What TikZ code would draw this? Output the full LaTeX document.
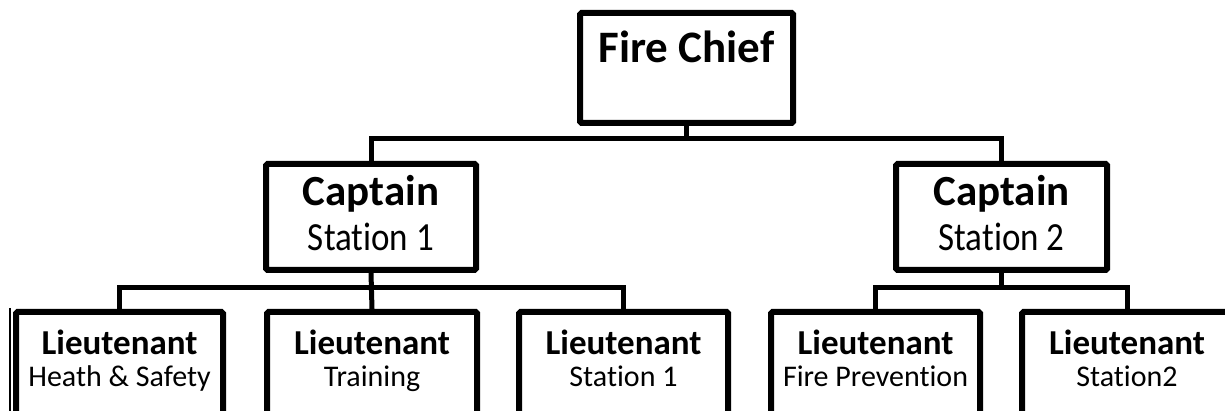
\documentclass[tikz,border=0pt]{standalone}
\usepackage{fontspec}
\setmainfont[Ligatures={NoCommon}]{Carlito}
\begin{document}
\begin{tikzpicture}[x=1pt,y=-1pt,
  box/.style={draw, line width=6pt, rounded corners=1.5pt, inner sep=0pt, anchor=north west},
  topbox/.style={box, minimum width=213pt, minimum height=110pt},
  capbox/.style={box, minimum width=210pt, minimum height=106pt},
  ltbox/.style={box, minimum width=209pt, minimum height=125pt},
  link/.style={draw, line width=5pt},
  chieftxt/.style={anchor=base, inner sep=0pt, font=\fontsize{45}{50}\selectfont\bfseries},
  captxt/.style={anchor=base, inner sep=0pt, font=\fontsize{43}{48}\selectfont\bfseries},
  capsub/.style={anchor=base, inner sep=0pt, font=\fontsize{35}{40}\selectfont},
  lttxt/.style={anchor=base, inner sep=0pt, font=\fontsize{35}{40}\selectfont\bfseries},
  ltsub/.style={anchor=base, inner sep=0pt, font=\fontsize{30}{35}\selectfont}]
\useasboundingbox (0,0) rectangle (1225,411);
\clip (0,0) rectangle (1225,411);
\fill[white] (0,0) rectangle (1225,411);

% boxes
\node[topbox] (chief) at (577,10) {};
\node[capbox] (cap1) at (263,161) {};
\node[capbox, minimum width=211pt] (cap2) at (893,161) {};
\node[ltbox, minimum width=207pt] (lt1) at (13,309) {};
\node[ltbox, minimum width=210pt] (lt2) at (264,309) {};
\node[ltbox] (lt3) at (516,309) {};
\node[ltbox] (lt4) at (768,309) {};
\node[ltbox, minimum width=210pt] (lt5) at (1019,309) {};
\draw[line width=1.5pt] (10,308) coordinate (edgeA) -- (10,420) coordinate (edgeB);

% texts
\node[chieftxt] (chiefT) at (chief.center |- 0,63) {Fire Chief};
\node[captxt] (cap1T) at (cap1.center |- 0,206) {Captain};
\node[capsub] (cap1S) at (cap1.center |- 0,251) {\scalebox{1}[1.14]{Station 1}};
\node[captxt] (cap2T) at (cap2.center |- 0,206) {Captain};
\node[capsub] (cap2S) at (cap2.center |- 0,251) {\scalebox{1}[1.14]{Station 2}};
\node[lttxt] (lt1T) at (lt1.center |- 0,354) {Lieutenant};
\node[ltsub] (lt1S) at (lt1.center |- 0,386) {Heath \& Safety};
\node[lttxt] (lt2T) at (lt2.center |- 0,354) {Lieutenant};
\node[ltsub] (lt2S) at (lt2.center |- 0,386) {Training};
\node[lttxt] (lt3T) at (lt3.center |- 0,354) {Lieutenant};
\node[ltsub] (lt3S) at (lt3.center |- 0,386) {Station 1};
\node[lttxt] (lt4T) at (lt4.center |- 0,354) {Lieutenant};
\node[ltsub] (lt4S) at (lt4.center |- 0,386) {Fire Prevention};
\node[lttxt] (lt5T) at (lt5.center |- 0,354) {Lieutenant};
\node[ltsub] (lt5S) at (lt5.center |- 0,386) {Station2};

% connectors
\coordinate (busA) at (chief.south |- 0,139);
\coordinate (busB) at (cap1.south |- 0,288);
\coordinate (busC) at (cap2.south |- 0,288);
\draw[link] (chief.south) -- (busA);
\draw[link] (busA) -| (cap1.north);
\draw[link] (busA) -| (cap2.north);
\draw[link] (cap1.south) -- (lt2.north);
\draw[link] (busB) -| (lt1.north);
\draw[link] (busB) -| (lt3.north);
\draw[link] (cap2.south) -- (busC);
\draw[link] (busC) -| (lt4.north);
\draw[link] (busC) -| (lt5.north);
\end{tikzpicture}
\end{document}
